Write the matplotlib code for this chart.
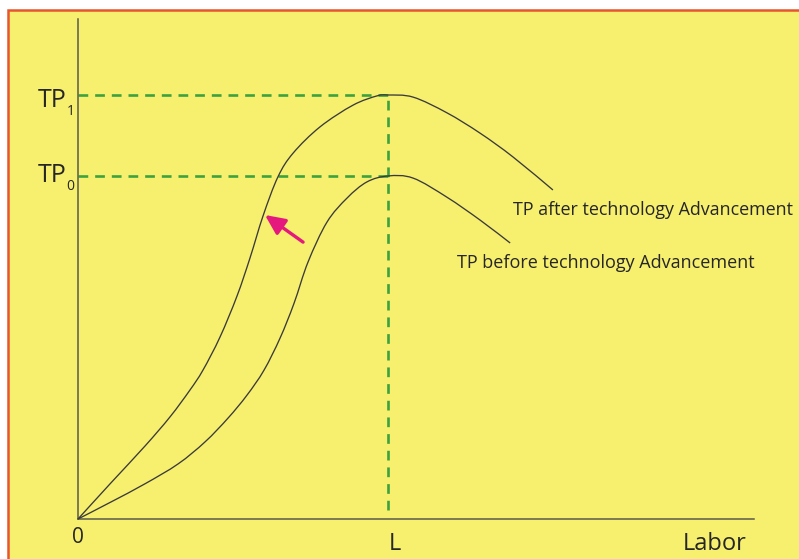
import matplotlib
matplotlib.use('Agg')
import matplotlib.pyplot as plt
from matplotlib.patches import Rectangle, PathPatch
from matplotlib.path import Path

plt.rcParams['font.family'] = ['Open Sans', 'DejaVu Sans']
plt.rcParams['lines.scale_dashes'] = False

# dane (L = 10, TP1 = 100)
labor_after = [0, 1.06, 2.16, 2.97, 3.61, 4.03, 4.58, 5.13, 5.55, 5.97, 6.45, 6.94,
               7.81, 8.87, 9.65, 10.0, 10.81, 11.90, 12.97, 14.03, 15.32]
tp_after = [0, 8.5, 17.2, 24.1, 30.4, 35.1, 42.9, 52.6, 61.6, 71.5, 80.7, 86.3,
            92.5, 97.6, 99.8, 100.0, 99.5, 95.8, 91.0, 85.4, 77.6]

labor_before = [0, 1.06, 2.16, 3.23, 4.10, 4.84, 5.45, 6.00, 6.52, 6.97, 7.42, 8.03,
                8.68, 9.32, 10.0, 10.81, 11.90, 12.97, 13.94]
tp_before = [0, 4.0, 8.3, 13.0, 18.2, 23.8, 29.2, 35.1, 42.7, 50.9, 60.6, 70.0,
             75.7, 79.5, 80.9, 80.4, 75.9, 70.5, 65.1]

L = 10.0
TP1 = 100.0
TP0 = 80.9
x_max = 21.8
y_max = 117.9

label_after = 'TP after technology Advancement'
label_before = 'TP before technology Advancement'

# strzałka (ogon -> grot)
arrow_tail = (7.26, 65.3)
arrow_head = (6.03, 71.7)

bg = '#F7EF6E'
line_col = '#3a3a3a'
green = '#3DA23D'


def smooth_path(xs, ys):
    # krzywa Beziera przez odczytane punkty (styczne Catmulla-Roma)
    pts = list(zip(xs, ys))
    verts = [pts[0]]
    codes = [Path.MOVETO]
    n = len(pts)
    for i in range(n - 1):
        p0 = pts[max(i - 1, 0)]
        p1 = pts[i]
        p2 = pts[i + 1]
        p3 = pts[min(i + 2, n - 1)]
        c1 = (p1[0] + (p2[0] - p0[0]) / 6, p1[1] + (p2[1] - p0[1]) / 6)
        c2 = (p2[0] - (p3[0] - p1[0]) / 6, p2[1] - (p3[1] - p1[1]) / 6)
        verts += [c1, c2, p2]
        codes += [Path.CURVE4] * 3
    return Path(verts, codes)


fig = plt.figure(figsize=(7.99, 5.59), dpi=100)
fig.patch.set_facecolor('white')

ax = fig.add_axes([0, 0, 1, 1])
ax.set_facecolor('none')
ax.add_patch(Rectangle((8 / 799, -0.01), 1.0, 1 - 10 / 559 + 0.01, transform=ax.transAxes,
                       facecolor=bg, edgecolor='#E8552D', linewidth=1.8, zorder=0, clip_on=False))
ax.set_xlim(-78 / 31, (799 - 78) / 31)
ax.set_ylim((519 - 559) / 4.24, 519 / 4.24)

for s in ['top', 'right']:
    ax.spines[s].set_visible(False)
ax.spines['left'].set_position(('data', 0))
ax.spines['bottom'].set_position(('data', 0))
ax.spines['left'].set_bounds(0, y_max)
ax.spines['bottom'].set_bounds(0, x_max)
for s in ['left', 'bottom']:
    ax.spines[s].set_color('#5a5a4a')
    ax.spines[s].set_linewidth(1.1)
ax.set_xticks([])
ax.set_yticks([])

# linie pomocnicze
ax.hlines([TP1, TP0], 0, L, colors=green, linewidth=1.9, linestyles=(0, (7, 5)), zorder=2)
ax.vlines(L, 2.1, TP1, colors=green, linewidth=1.9, linestyles=(0, (7, 5)), zorder=2)

for xs, ys in [(labor_after, tp_after), (labor_before, tp_before)]:
    ax.add_patch(PathPatch(smooth_path(xs, ys), facecolor='none', edgecolor=line_col,
                           linewidth=0.95, zorder=3))

ax.annotate('', xy=arrow_head, xytext=arrow_tail,
            arrowprops=dict(arrowstyle='-|>,head_length=0.6,head_width=0.28', color='#E5197D',
                            linewidth=2.4, mutation_scale=20, shrinkA=0, shrinkB=0), zorder=4)

ax.text(labor_after[-1] - 1.3, tp_after[-1] - 6, label_after, fontsize=12.9,
        color='#262626', ha='left', va='baseline')
ax.text(labor_before[-1] - 1.7, tp_before[-1] - 6, label_before, fontsize=13,
        color='#262626', ha='left', va='baseline')

# etykiety osi Y
ax.annotate('TP', xy=(0, TP1), xytext=(-40, -12), textcoords='offset pixels',
            fontsize=18, color='#262626', ha='left', va='baseline')
ax.annotate('1', xy=(0, TP1), xytext=(-11, -20), textcoords='offset pixels',
            fontsize=10, color='#262626', ha='left', va='baseline')
ax.annotate('TP', xy=(0, TP0), xytext=(-40, -6), textcoords='offset pixels',
            fontsize=18, color='#262626', ha='left', va='baseline')
ax.annotate('0', xy=(0, TP0), xytext=(-12, -14), textcoords='offset pixels',
            fontsize=10, color='#262626', ha='left', va='baseline')

# etykiety osi X
ax.annotate('0', xy=(0, 0), xytext=(0, -24), textcoords='offset pixels',
            fontsize=15, color='#262626', ha='center', va='baseline')
ax.annotate('L', xy=(L, 0), xytext=(7, -31), textcoords='offset pixels',
            fontsize=17, color='#262626', ha='center', va='baseline')
ax.annotate('Labor', xy=(x_max, 0), xytext=(-7, -31), textcoords='offset pixels',
            fontsize=17, color='#262626', ha='right', va='baseline')

fig.savefig('out.png', dpi=100, facecolor=fig.get_facecolor())
